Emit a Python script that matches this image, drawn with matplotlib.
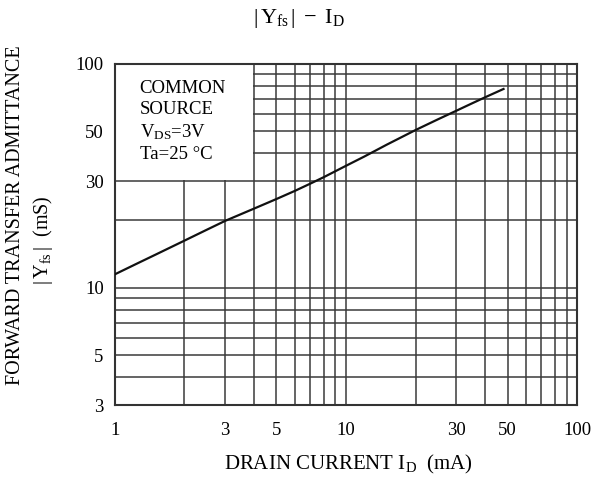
import matplotlib
matplotlib.use("Agg")
import matplotlib.pyplot as plt
from matplotlib.patches import Rectangle

drain_current_ma = [1, 1.25, 1.5, 2, 2.5, 3, 4, 5, 6, 7, 8, 10, 12, 15,
                    20, 25, 30, 35, 40, 48]
admittance_ms = [11.5, 12.86, 14.08, 16.26, 18.19, 19.92, 22.6, 24.94, 27.1,
                 29.2, 31.2, 35.1, 38.6, 43.6, 50.7, 56.6, 61.8, 66.6, 71.0, 77.3]

x_grid = [2, 3, 4, 5, 6, 7, 8, 9, 10, 20, 30, 40, 50, 60, 70, 80, 90]
y_grid = [4, 5, 6, 7, 8, 9, 10, 20, 30, 40, 50, 60, 70, 80, 90]
x_ticks = [1, 3, 5, 10, 30, 50, 100]
y_ticks = [3, 5, 10, 30, 50, 100]

plt.rcParams["font.family"] = ["Liberation Serif", "DejaVu Serif"]
plt.rcParams["mathtext.fontset"] = "custom"
plt.rcParams["mathtext.rm"] = "Liberation Serif"
plt.rcParams["mathtext.it"] = "Liberation Serif:italic"

fig = plt.figure(figsize=(5.92, 4.88), dpi=100)
ax = fig.add_axes([0.194, 0.170, 0.781, 0.699])
ax.set_xscale("log")
ax.set_yscale("log")
ax.set_xlim(1, 100)
ax.set_ylim(3, 100)

# grid drawn by hand so every minor line shows
for xv in x_grid:
    ax.axvline(xv, color="#3a3a3a", lw=1.1, zorder=1)
for yv in y_grid:
    ax.axhline(yv, color="#3a3a3a", lw=1.1, zorder=1)

# white label box hides grid in upper-left, up to the 4 mA and 30 mS lines
ax.add_patch(Rectangle((1, 30.4), 2.96, 70, facecolor="white", edgecolor="none", zorder=2))
ax.text(1.28, 85, "COMMON\nSOURCE\n$\\mathrm{V_{DS}}$=3V\nTa=25 °C",
        fontsize=13.5, va="top", ha="left", linespacing=1.3, zorder=3)

ax.plot(drain_current_ma, admittance_ms, color="#111111", lw=1.6, zorder=4)

ax.set_xticks(x_ticks)
ax.set_xticklabels([str(v) for v in x_ticks])
ax.set_yticks(y_ticks)
ax.set_yticklabels([str(v) for v in y_ticks])
ax.minorticks_off()
ax.tick_params(length=0, labelsize=13.5)
ax.tick_params(axis="x", pad=12)
ax.tick_params(axis="y", pad=8)
for sp in ax.spines.values():
    sp.set_color("#333333")
    sp.set_linewidth(1.5)

fig.text(0.505, 0.963, "$\\mathrm{|\\,Y_{fs}\\,|\\ -\\ I_D}$", ha="center", va="center", fontsize=16)
fig.text(0.588, 0.048, "DRAIN CURRENT $\\mathrm{I_D}$  (mA)", ha="center", va="center", fontsize=15)
fig.text(0.027, 0.56, "FORWARD TRANSFER ADMITTANCE", rotation=90, ha="center", va="center", fontsize=14.5)
fig.text(0.072, 0.508, "$\\mathrm{|\\,Y_{fs}\\,|}$  (mS)", rotation=90, ha="center", va="center", fontsize=14.5)

fig.savefig("out.png", dpi=100)
